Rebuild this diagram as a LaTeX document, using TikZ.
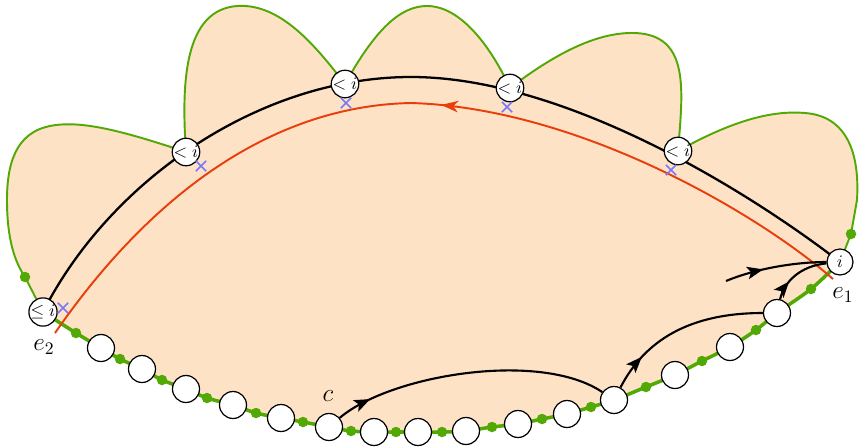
\documentclass[tikz,border=0pt]{standalone}
\usetikzlibrary{arrows.meta,decorations.markings,backgrounds,shapes.misc}
\definecolor{grn}{RGB}{82,168,4}
\definecolor{peach}{RGB}{253,226,198}
\definecolor{redc}{RGB}{232,62,12}
\definecolor{bluec}{RGB}{120,120,250}
\tikzset{
  lab/.style={circle, draw, fill=white, line width=0.7pt, inner sep=0pt, minimum size=0.52cm},
  bead/.style={circle, draw, fill=white, line width=0.7pt, inner sep=0pt, minimum size=0.54cm},
  gdot/.style={circle, fill=grn, inner sep=0pt, minimum size=0.21cm},
  rim/.style={draw=grn, line width=1.1pt},
  basel/.style={draw=grn, line width=2pt},
  arcl/.style={draw=black, line width=1.3pt},
  redl/.style={draw=redc, line width=1.1pt},
  xm/.style={cross out, draw=bluec, line width=1pt, inner sep=0pt, minimum size=0.17cm},
  flow/.style={draw=black, line width=1.2pt, postaction={decorate},
    decoration={markings, mark=at position #1 with {\arrow{Stealth[length=3.2mm,width=2.5mm,inset=0.7mm]}}}},
  redflow/.style={redl, postaction={decorate},
    decoration={markings, mark=at position #1 with {\arrow[redc]{Stealth[length=3.4mm,width=2.3mm,inset=1mm]}}}},
  lbl/.style={font=\Large, inner sep=0pt}
}
\begin{document}
\begin{tikzpicture}[x=0.02cm, y=-0.02cm]
\useasboundingbox (0,0) rectangle (860,447);
% labelled nodes
\node[lab] (Le) at (43,312) {$\le i$};
\node[lab] (L1) at (186,152) {$<i$};
\node[lab] (L2) at (345,84) {$<i$};
\node[lab] (L3) at (510,88) {$<i$};
\node[lab] (L4) at (678,151) {$<i$};
\node[lab] (Ri) at (840,262) {$i$};
% green dots
\node[gdot] (d0) at (25,277) {};
\node[gdot] (d1) at (76,333) {};
\node[gdot] (d2) at (120,359) {};
\node[gdot] (d3) at (162,380) {};
\node[gdot] (d4) at (207,398) {};
\node[gdot] (d5) at (256,413) {};
\node[gdot] (d6) at (303,422) {};
\node[gdot] (d7) at (351,431) {};
\node[gdot] (d8) at (396,432) {};
\node[gdot] (d9) at (442,432) {};
\node[gdot] (d10) at (492,427) {};
\node[gdot] (d11) at (542,419) {};
\node[gdot] (d12) at (591,407) {};
\node[gdot] (d13) at (646,387) {};
\node[gdot] (d14) at (702,361) {};
\node[gdot] (d15) at (756,330) {};
\node[gdot] (d16) at (811,289) {};
\node[gdot] (d17) at (851,234) {};
% white beads
\node[bead] (b1) at (101,348) {};
\node[bead] (b2) at (142,369) {};
\node[bead] (b3) at (186,389) {};
\node[bead] (b4) at (233,405) {};
\node[bead] (b5) at (281,418) {};
\node[bead] (b6) at (329,427) {};
\node[bead] (b7) at (374,432) {};
\node[bead] (b8) at (418,432) {};
\node[bead] (b9) at (466,431) {};
\node[bead] (b10) at (518,424) {};
\node[bead] (b11) at (567,414) {};
\node[bead] (b12) at (614,400) {};
\node[bead] (b13) at (675,375) {};
\node[bead] (b14) at (730,347) {};
\node[bead] (b15) at (777,313) {};
% crosses
\node[xm] (x1) at (63,308) {};
\node[xm] (x2) at (201,166) {};
\node[xm] (x3) at (346,103) {};
\node[xm] (x4) at (507,107) {};
\node[xm] (x5) at (671,170) {};
% labels
\node[lbl] (e2) at (44,347) {$e_2$};
\node[lbl] (e1) at (843,295) {$e_1$};
\node[lbl] (c) at (328,396) {$c$};
\coordinate (r1) at (833,279);
\coordinate (r2) at (55,333);
\coordinate (s) at (726,281);

\begin{scope}[on background layer]
% fill
\fill[peach] (Le.center) -- (d0.center)
  .. controls (15,262) and (7,240) .. (7,200)
  .. controls (7,165) and (15,133) .. (50,126)
  .. controls (80,120) and (120,130) .. (L1.center)
  .. controls (181,80) and (185,10) .. (237,6)
  .. controls (280,3) and (315,45) .. (L2.center)
  .. controls (375,30) and (400,6) .. (427,6)
  .. controls (460,6) and (490,45) .. (L3.center)
  .. controls (560,50) and (600,32) .. (635,33)
  .. controls (690,35) and (683,90) .. (L4.center)
  .. controls (730,122) and (770,110) .. (805,113)
  .. controls (845,116) and (860,150) .. (857,200)
  -- (d17.center) -- (Ri.center)
  -- plot[smooth] coordinates {(Ri.center) (d16.center) (b15.center) (d15.center) (b14.center) (d14.center) (b13.center) (d13.center) (b12.center) (d12.center) (b11.center) (d11.center) (b10.center) (d10.center) (b9.center) (d9.center) (b8.center) (d8.center) (b7.center) (d7.center) (b6.center) (d6.center) (b5.center) (d5.center) (b4.center) (d4.center) (b3.center) (d3.center) (b2.center) (d2.center) (b1.center) (d1.center) (Le.center)} -- cycle;
% green rim (lobes)
\draw[rim] (Le.center) -- (d0.center)
  .. controls (15,262) and (7,240) .. (7,200)
  .. controls (7,165) and (15,133) .. (50,126)
  .. controls (80,120) and (120,130) .. (L1.center);
\draw[rim] (L1.center) .. controls (181,80) and (185,10) .. (237,6)
  .. controls (280,3) and (315,45) .. (L2.center);
\draw[rim] (L2.center) .. controls (375,30) and (400,6) .. (427,6)
  .. controls (460,6) and (490,45) .. (L3.center);
\draw[rim] (L3.center) .. controls (560,50) and (600,32) .. (635,33)
  .. controls (690,35) and (683,90) .. (L4.center);
\draw[rim] (L4.center) .. controls (730,122) and (770,110) .. (805,113)
  .. controls (845,116) and (860,150) .. (857,200)
  -- (d17.center) -- (Ri.center);
% green base
\draw[basel] plot[smooth] coordinates {(Le.center) (d1.center) (b1.center) (d2.center) (b2.center) (d3.center) (b3.center) (d4.center) (b4.center) (d5.center) (b5.center) (d6.center) (b6.center) (d7.center) (b7.center) (d8.center) (b8.center) (d9.center) (b9.center) (d10.center) (b10.center) (d11.center) (b11.center) (d12.center) (b12.center) (d13.center) (b13.center) (d14.center) (b14.center) (d15.center) (b15.center) (d16.center) (Ri.center)};
% black arc
\draw[arcl] (Le.center) .. controls (110,180) and (260,77) .. (411,77)
  .. controls (560,77) and (740,185) .. (Ri.center);
% red curve
\draw[redflow=0.48] (r1) .. controls (760,215) and (580,108) .. (411,103)
  .. controls (260,106) and (140,210) .. (r2);
\end{scope}
% black flow arrows
\draw[flow=0.13] (b6) .. controls (390,375) and (540,350) .. (b12);
\draw[flow=0.22] (b12) .. controls (645,340) and (690,313) .. (b15);
\draw[flow=0.32] (b15) .. controls (784,282) and (800,266) .. (Ri);
\draw[flow=0.38] (s) .. controls (760,267) and (800,262) .. (Ri);
\end{tikzpicture}
\end{document}
